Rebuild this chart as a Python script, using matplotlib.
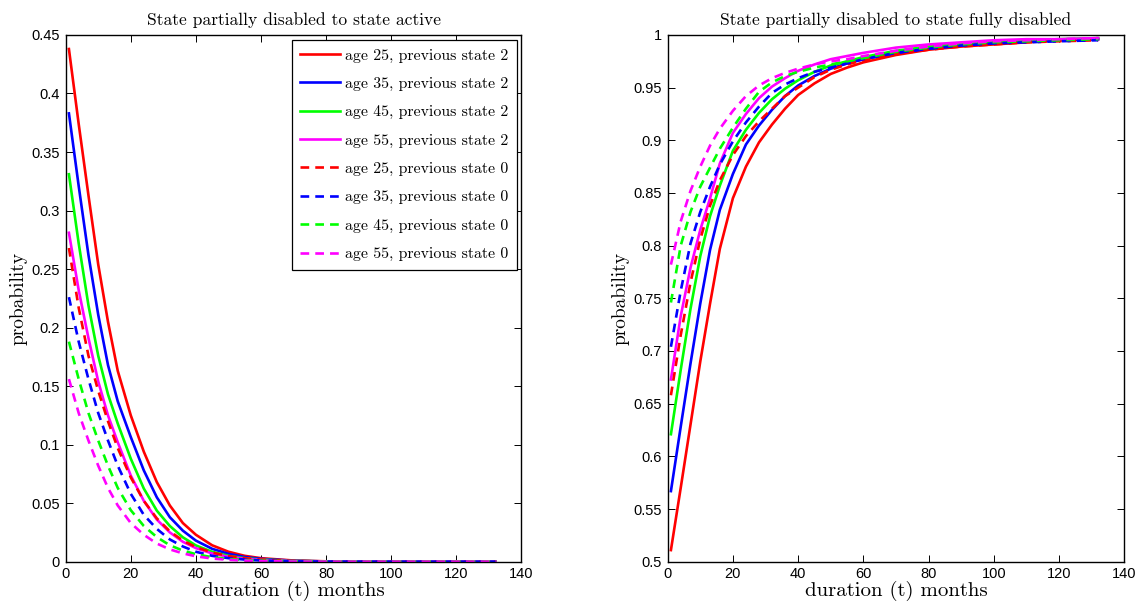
import matplotlib as mpl
mpl.use('Agg')
import matplotlib.pyplot as plt
from matplotlib.ticker import FixedLocator, FuncFormatter

# duration grid (months) shared by every curve
months = [1, 4, 7, 10, 13, 16, 20, 24, 28, 32, 36, 40, 45, 50, 55, 60, 70, 80, 90, 100, 110, 120, 132]

labels = ['age 25, previous state 2', 'age 35, previous state 2',
          'age 45, previous state 2', 'age 55, previous state 2',
          'age 25, previous state 0', 'age 35, previous state 0',
          'age 45, previous state 0', 'age 55, previous state 0']

# partially disabled -> active
act_25_p2 = [.438, .374, .313, .254, .205, .163, .125, .094, .068, .048, .033, .023, .014, .0085, .005, .003, .001, .0003, .0001, .00005, .00002, .00001, 0]
act_35_p2 = [.383, .321, .262, .211, .168, .137, .1065, .078, .055, .038, .0265, .018, .011, .0067, .004, .0024, .0008, .0002, .0001, .00003, .00001, 0, 0]
act_45_p2 = [.331, .272, .219, .176, .143, .118, .088, .0625, .0436, .0305, .0208, .0139, .0084, .005, .003, .0018, .0006, .0002, .0001, .00002, 0, 0, 0]
act_55_p2 = [.281, .232, .191, .154, .125, .102, .0736, .052, .036, .025, .017, .0116, .007, .0042, .0025, .0015, .0005, .0001, .00003, 0, 0, 0, 0]
act_25_p0 = [.268, .217, .176, .146, .120, .097, .072, .052, .037, .026, .018, .0125, .0078, .0048, .003, .0018, .0006, .0002, .00005, .00002, 0, 0, 0]
act_35_p0 = [.226, .188, .156, .127, .1035, .082, .058, .040, .028, .019, .013, .0085, .005, .003, .0018, .001, .0003, .0001, .00003, 0, 0, 0, 0]
act_45_p0 = [.188, .156, .127, .1035, .082, .063, .044, .0305, .021, .014, .0095, .0064, .0038, .0023, .0014, .0008, .0003, .0001, .00002, 0, 0, 0, 0]
act_55_p0 = [.156, .127, .1035, .082, .063, .048, .033, .023, .0155, .0105, .0071, .0046, .0027, .0016, .0009, .0005, .0001, .00003, 0, 0, 0, 0, 0]

# partially disabled -> fully disabled
dis_25_p2 = [.511, .570, .630, .690, .745, .797, .845, .875, .898, .915, .930, .943, .954, .963, .969, .974, .981, .986, .989, .991, .993, .995, .996]
dis_35_p2 = [.567, .628, .688, .745, .796, .834, .868, .896, .914, .929, .942, .952, .961, .968, .973, .977, .983, .987, .990, .992, .994, .995, .996]
dis_45_p2 = [.621, .682, .740, .790, .828, .857, .890, .910, .926, .939, .949, .957, .965, .971, .975, .979, .985, .989, .992, .994, .995, .996, .997]
dis_55_p2 = [.673, .733, .779, .815, .845, .878, .907, .925, .940, .951, .959, .966, .972, .977, .980, .983, .988, .991, .993, .995, .996, .996, .997]
dis_25_p0 = [.658, .715, .765, .806, .838, .862, .886, .904, .918, .930, .942, .950, .960, .967, .972, .976, .982, .986, .989, .991, .993, .994, .995]
dis_35_p0 = [.704, .757, .802, .832, .856, .877, .899, .917, .932, .945, .953, .959, .965, .969, .973, .977, .983, .987, .990, .992, .993, .994, .995]
dis_45_p0 = [.746, .800, .832, .856, .874, .892, .912, .930, .946, .955, .961, .965, .969, .972, .975, .978, .984, .988, .991, .993, .994, .995, .996]
dis_55_p0 = [.782, .823, .852, .875, .895, .911, .928, .942, .952, .959, .964, .968, .972, .975, .977, .980, .985, .989, .992, .994, .995, .996, .997]

colors = ['#ff0000', '#0000ff', '#00ff00', '#ff00ff'] * 2
styles = ['-'] * 4 + ['--'] * 4

active = [act_25_p2, act_35_p2, act_45_p2, act_55_p2, act_25_p0, act_35_p0, act_45_p0, act_55_p0]
disabled = [dis_25_p2, dis_35_p2, dis_45_p2, dis_55_p2, dis_25_p0, dis_35_p0, dis_45_p0, dis_55_p0]

plt.rcParams['font.family'] = 'cmr10'
plt.rcParams['axes.formatter.use_mathtext'] = True
tick_font = 'Liberation Sans'

fig = plt.figure(figsize=(11.46, 6.05), dpi=100)
ax1 = fig.add_axes([0.0573, 0.0716, 0.3977, 0.8706])
ax2 = fig.add_axes([0.5826, 0.0716, 0.3984, 0.8706])


def style_axes(ax, yticks, ylim, title):
    ax.set_xlim(0, 140)
    ax.set_ylim(*ylim)
    ax.xaxis.set_major_locator(FixedLocator(range(0, 141, 20)))
    ax.yaxis.set_major_locator(FixedLocator(yticks))
    ax.yaxis.set_major_formatter(FuncFormatter(lambda v, p: '%g' % round(v, 4)))
    ax.xaxis.set_major_formatter(FuncFormatter(lambda v, p: '%g' % v))
    ax.tick_params(direction='in', length=5, width=0.7, top=True, right=True,
                   labelsize=10.5, pad=4)
    for lab in ax.get_xticklabels() + ax.get_yticklabels():
        lab.set_family(tick_font)
    for sp in ax.spines.values():
        sp.set_linewidth(1.0)
    ax.set_title(title, fontsize=12.6, pad=7)
    ax.set_xlabel('duration (t) months', fontsize=15, labelpad=0)
    ax.set_ylabel('probability', fontsize=14, labelpad=3)


def dash_for(ls):
    return (3.3, 2.3) if ls == '--' else (None, None)


for vals, c, ls, lab in zip(active, colors, styles, labels):
    ax1.plot(months, vals, color=c, linestyle=ls, lw=1.9, label=lab, dashes=dash_for(ls))
for vals, c, ls in zip(disabled, colors, styles):
    ax2.plot(months, vals, color=c, linestyle=ls, lw=1.9, dashes=dash_for(ls))

style_axes(ax1, [0, .05, .1, .15, .2, .25, .3, .35, .4, .45], (0, 0.45),
           'State partially disabled to state active')
style_axes(ax2, [.5, .55, .6, .65, .7, .75, .8, .85, .9, .95, 1], (0.5, 1),
           'State partially disabled to state fully disabled')

leg = ax1.legend(loc='upper right', fontsize=11.4, fancybox=False, framealpha=1,
                 edgecolor='black', handlelength=2.5, handletextpad=0.3,
                 borderpad=0.55, labelspacing=0.9, borderaxespad=0.3)
leg.get_frame().set_linewidth(0.9)

fig.savefig('out.png', dpi=100)
